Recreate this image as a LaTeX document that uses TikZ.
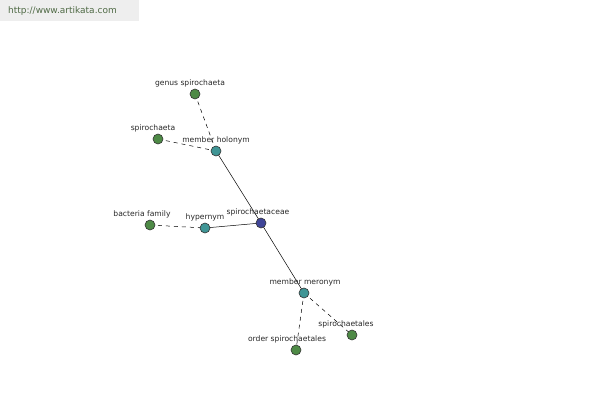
\documentclass[tikz,border=0pt]{standalone}
\usepackage{fontspec}
\setmainfont{DejaVu Sans}
\usetikzlibrary{backgrounds}
\definecolor{leaf}{HTML}{4E8A46}
\definecolor{mid}{HTML}{3F9595}
\definecolor{core}{HTML}{3F4598}
\definecolor{hdr}{HTML}{EEEEEE}
\definecolor{hdrtext}{HTML}{4F6A45}
\tikzset{
  dot/.style={circle,draw=black!80,line width=0.6pt,minimum size=10pt,inner sep=0pt},
  leafdot/.style={dot,fill=leaf},
  middot/.style={dot,fill=mid},
  coredot/.style={dot,fill=core},
  lbl/.style={font=\fontsize{7.6}{8}\selectfont,text=black!85,inner sep=0pt},
  rel/.style={line width=0.5pt,black},
  reldash/.style={rel,dash pattern=on 4pt off 4pt}
}
\begin{document}
\begin{tikzpicture}[x=1pt,y=-1pt]
\useasboundingbox (0,0) rectangle (600,400);
\node[fill=hdr,minimum width=139pt,minimum height=21pt,anchor=north west,inner sep=0pt] (hdrbox) at (0,0) {};
\node[font=\fontsize{9}{10}\selectfont,text=hdrtext,anchor=west,inner sep=0pt] (url) at (8,11) {http://www.artikata.com};

\node[leafdot] (gs) at (195,94) {};
\node[leafdot] (sp) at (158,139) {};
\node[middot] (mh) at (216,151) {};
\node[coredot] (sc) at (261,223) {};
\node[middot] (hy) at (205,228) {};
\node[leafdot] (bf) at (150,225) {};
\node[middot] (mm) at (304,293) {};
\node[leafdot] (sa) at (352,335) {};
\node[leafdot] (os) at (296,350) {};

\node[lbl] (gsl) at (190,83) {genus spirochaeta};
\node[lbl] (spl) at (153,128) {spirochaeta};
\node[lbl] (mhl) at (216,140) {member holonym};
\node[lbl] (scl) at (258,212) {spirochaetaceae};
\node[lbl] (hyl) at (205,217) {hypernym};
\node[lbl] (bfl) at (142,214) {bacteria family};
\node[lbl] (mml) at (305,282) {member meronym};
\node[lbl] (sal) at (346,324) {spirochaetales};
\node[lbl] (osl) at (287,339) {order spirochaetales};

\begin{scope}[on background layer]
\draw[rel] (mh.center) -- (sc.center);
\draw[rel] (hy.center) -- (sc.center);
\draw[rel] (sc.center) -- (mm.center);
\draw[reldash] (gs.center) -- (mh.center);
\draw[reldash] (sp.center) -- (mh.center);
\draw[reldash] (bf.center) -- (hy.center);
\draw[reldash] (mm.center) -- (sa.center);
\draw[reldash] (mm.center) -- (os.center);
\end{scope}
\end{tikzpicture}
\end{document}
